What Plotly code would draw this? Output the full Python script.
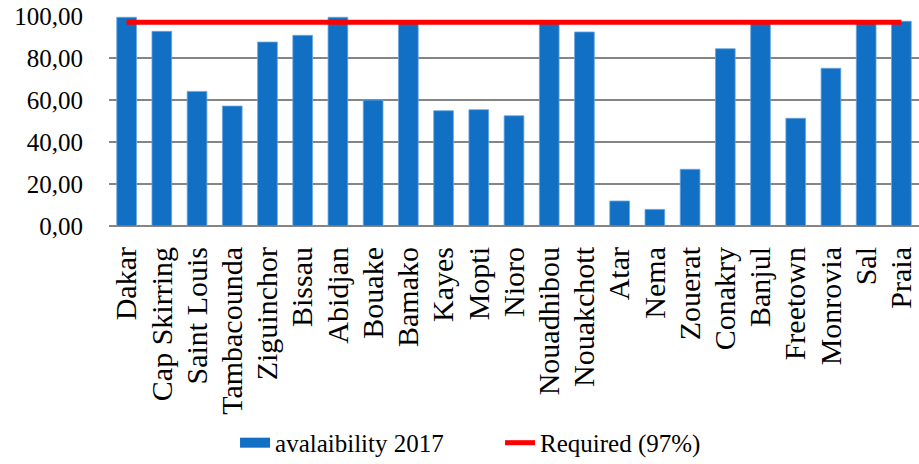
import plotly.graph_objects as go

cities = ["Dakar", "Cap Skirring", "Saint Louis", "Tambacounda", "Ziguinchor", "Bissau",
          "Abidjan", "Bouake", "Bamako", "Kayes", "Mopti", "Nioro", "Nouadhibou",
          "Nouakchott", "Atar", "Nema", "Zouerat", "Conakry", "Banjul", "Freetown",
          "Monrovia", "Sal", "Praia"]
availability_2017 = [99.4, 92.7, 64.1, 57.1, 87.6, 90.8,
                     99.4, 60.0, 97.0, 54.9, 55.4, 52.5, 97.0,
                     92.4, 11.9, 7.9, 27.0, 84.4, 97.0, 51.3,
                     75.1, 97.0, 97.5]
required = [97.0] * len(cities)
y_ticks = [0, 20, 40, 60, 80, 100]

FONT = "Liberation Serif"
BLUE = "#116fc4"

fig = go.Figure()
fig.add_trace(go.Bar(
    x=cities, y=availability_2017, name="avalaibility 2017", showlegend=False,
    marker=dict(color=BLUE, line=dict(color="#6aa6e0", width=0.8)),
))
# legend entry for the bars (wide rectangle swatch like the reference)
fig.add_trace(go.Scatter(
    x=[None], y=[None], name="avalaibility 2017", mode="lines",
    line=dict(color=BLUE, width=15),
))
fig.add_trace(go.Scatter(
    x=cities, y=required, name="Required (97%)", mode="lines",
    line=dict(color="#ff0000", width=5),
))

fig.update_layout(
    width=919, height=464,
    margin=dict(l=109, r=0, t=16, b=238, autoexpand=False),
    paper_bgcolor="white", plot_bgcolor="white",
    font=dict(family=FONT, size=25, color="black"),
    separators=", ",
    bargap=0.44,
    showlegend=True,
    legend=dict(orientation="h", x=0.1556, xanchor="left", y=-1.033, yanchor="middle",
                font=dict(size=25), itemwidth=30, tracegroupgap=0,
                entrywidth=220, entrywidthmode="pixels",
                bgcolor="rgba(0,0,0,0)"),
    xaxis=dict(range=[-0.5, 22.5], tickangle=-90, showgrid=False, automargin=False,
               showline=False, ticks="", ticklabelstandoff=14,
               tickmode="linear", tick0=0, dtick=1, ticklabeloverflow="allow",
               tickfont=dict(size=30)),
    yaxis=dict(range=[0, 100], tickvals=y_ticks, tickformat=".2f", automargin=False,
               showgrid=True, gridcolor="#858585", gridwidth=1.8,
               zeroline=True, zerolinecolor="#858585", zerolinewidth=1.8,
               ticks="", ticklabelstandoff=25, ticklabeloverflow="allow",
               tickfont=dict(size=25)),
)

fig.write_html("out.html",
               config={"displayModeBar": False},
               post_script="document.body.style.margin='0';document.body.style.overflow='hidden';")
